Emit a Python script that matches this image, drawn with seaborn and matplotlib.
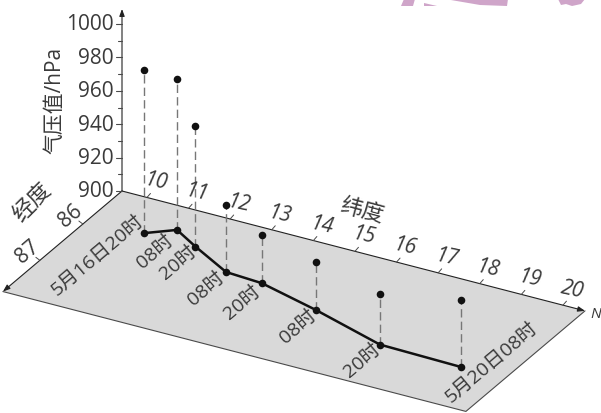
import pandas as pd
from matplotlib import pyplot as plt
import seaborn as sns

# Typhoon track: position and central pressure
lat = [10.72, 11.26, 11.96, 13.08, 13.98, 15.56, 17.49, 19.47]
lon = [85.86, 85.61, 85.86, 86.23, 86.27, 86.54, 86.92, 86.95]
pressure = [997.6, 990.4, 972, 940, 929, 929, 930, 940]
times = ['5月16日20时', '08时', '20时', '08时', '20时', '08时', '20时', '5月20日08时']
lat_ticks = [10, 11, 12, 13, 14, 15, 16, 17, 18, 19, 20]
lon_ticks = [86, 87]
p_ticks = [900, 920, 940, 960, 980, 1000]
p_minor = [910, 930, 950, 970, 990]

LAT0, LAT1 = 9.4, 20.53
LON0, LON1 = 85.09, 87.86


def project(la, lo, p=900):
    # oblique projection of the 3D box onto the page (pixels)
    x = 122 + 41.6 * (la - LAT0) - 43 * (lo - LON0)
    y = 192 + 10.77 * (la - LAT0) + 36.3 * (lo - LON0) - 1.67 * (p - 900)
    return x, y


df = pd.DataFrame({'lat': lat, 'lon': lon, 'p': pressure, 'time': times})
df['gx'], df['gy'] = project(df['lat'], df['lon'])
df['tx'], df['ty'] = project(df['lat'], df['lon'], df['p'])

sns.set_theme(style='white')
plt.rcParams['font.family'] = ['Open Sans', 'Noto Sans CJK SC', 'DejaVu Sans']
INK = '#3a3a3a'
EDGE = '#4a4a4a'

fig, ax = plt.subplots(figsize=(6.01, 4.14), dpi=100)
ax.set_position([0, 0, 1, 1])

# bits of the pink stamp showing along the top edge
for shape in [[(401, 7), (404, 0), (415, 0), (413, 7)],
              [(424, 4), (437, 7), (424, 7)],
              [(445, 0), (508, 0), (507, 7), (480, 6)],
              [(558, 0), (585, 0), (581, 5), (572, 7), (566, 5), (561, 6)]]:
    ax.fill([s[0] for s in shape], [s[1] for s in shape], color='#cfa5c9', lw=0, zorder=0)

# ground plane
corners = [project(LAT0, LON0), project(LAT1, LON0), project(LAT1, LON1), project(LAT0, LON1)]
ax.fill([c[0] for c in corners], [c[1] for c in corners], color='#d9d9d9', lw=0, zorder=0)
ax.plot([corners[1][0], corners[2][0], corners[3][0]],
        [corners[1][1], corners[2][1], corners[3][1]], color=EDGE, lw=0.8, zorder=1)


def arrow(start, end):
    ax.annotate('', xy=end, xytext=start, zorder=1,
                arrowprops=dict(arrowstyle='-|>,head_width=0.13,head_length=0.35', color='#222222',
                                lw=0.8, shrinkA=0, shrinkB=0))


arrow(corners[0], corners[1])
arrow(corners[0], corners[3])
arrow(corners[0], project(LAT0, LON0, 1009))

# pressure axis
x0, _ = project(LAT0, LON0)
for p in p_ticks:
    _, y = project(LAT0, LON0, p)
    ax.plot([x0 - 6, x0], [y, y], color=EDGE, lw=0.8)
    ax.text(x0 - 8, y, str(p), ha='right', va='center', fontsize=15, color=INK)
for p in p_minor:
    _, y = project(LAT0, LON0, p)
    ax.plot([x0 - 4, x0], [y, y], color=EDGE, lw=0.8)

# latitude axis
for v in lat_ticks:
    x, y = project(v, LON0)
    ax.plot([x, x + 3.5], [y, y - 4], color=EDGE, lw=0.7)
    ax.text(x + 9, y - 16, str(v), ha='center', va='center', fontsize=15, color=INK,
            rotation=-12, style='italic', rotation_mode='anchor')

# longitude axis
for v in lon_ticks:
    x, y = project(LAT0, v)
    ax.plot([x, x - 4], [y, y - 3], color=EDGE, lw=0.7)
    ax.text(x - 12, y - 9, str(v), ha='center', va='center', fontsize=15, color=INK,
            rotation=40, rotation_mode='anchor')

# droplines from ground track up to the pressure value
for _, row in df.iterrows():
    ax.plot([row['gx'], row['tx']], [row['gy'], row['ty']], color='#777777', lw=1,
            dashes=(6, 3), zorder=2)

sns.lineplot(data=df, x='gx', y='gy', sort=False, color='#111111', lw=1.8, ax=ax, zorder=3,
             estimator=None)
sns.scatterplot(data=df, x='gx', y='gy', color='#111111', s=30, linewidth=0, ax=ax, zorder=4)
sns.scatterplot(data=df, x='tx', y='ty', color='#111111', s=30, linewidth=0, ax=ax, zorder=4)

# time labels, placed by hand beside the track
label_off = [(-46, 21), (-22, 21), (-17.5, 15.5), (-20, 16), (-20, 19), (-18, 16), (-18, 15.5), (31, -5)]
for (_, row), off in zip(df.iterrows(), label_off):
    ax.text(row['gx'] + off[0], row['gy'] + off[1], row['time'], ha='center', va='center',
            fontsize=14, color=INK, rotation=40, rotation_mode='anchor')

ax.text(55, 100, '气压值/hPa', rotation=90, ha='center', va='center', fontsize=15, color=INK)
ax.text(362, 212, '纬度', rotation=-15, ha='center', va='center', fontsize=16, color=INK)
ax.text(33, 203, '经度', rotation=45, ha='center', va='center', fontsize=16, color=INK)
ax.text(590, 315, 'N', ha='left', va='center', fontsize=11, color=INK, style='italic')

ax.set_xlim(0, 601)
ax.set_ylim(414, 0)
ax.axis('off')
fig.savefig('out.png', dpi=100)
